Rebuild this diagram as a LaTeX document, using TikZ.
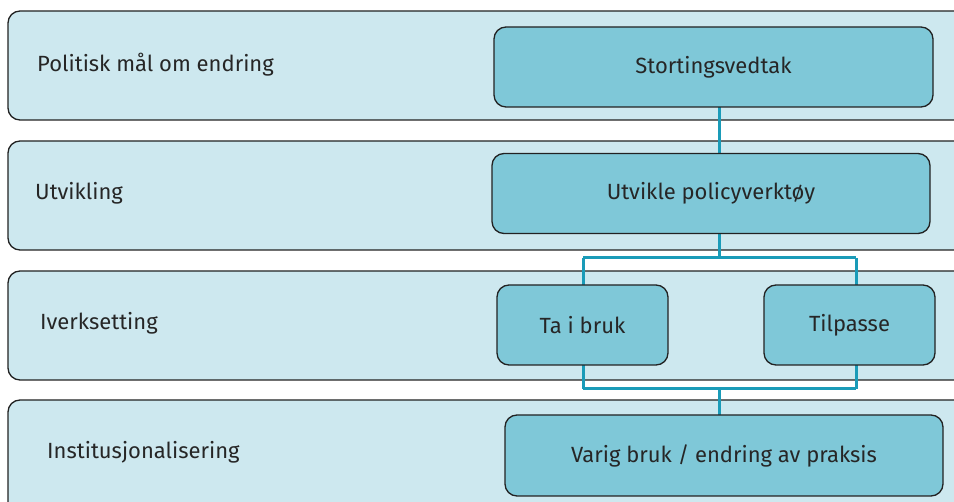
\documentclass[tikz,border=0pt]{standalone}
\usepackage{fontspec}
\setmainfont{Fira Sans}
\definecolor{bandfill}{HTML}{CDE8EF}
\definecolor{boxfill}{HTML}{7FC8D8}
\definecolor{conn}{HTML}{1A9BB8}
\definecolor{edge}{HTML}{222222}
\begin{document}
\begin{tikzpicture}[x=1pt,y=-1pt,
  band/.style={draw=edge,line width=1.3pt,fill=bandfill,rounded corners=12pt},
  stepbox/.style={draw=edge,line width=1.3pt,fill=boxfill,rounded corners=12pt,
    minimum height=80pt,inner sep=0pt,font=\fontsize{22}{26}\selectfont,text=black!85},
  lbl/.style={anchor=west,font=\fontsize{22}{26}\selectfont,text=black!85,inner sep=0pt},
  conline/.style={draw=conn,line width=3pt}]
\useasboundingbox (0,0) rectangle (954,502);
\clip (0,0) rectangle (954,502);
% bands
\draw[band] (8,11) rectangle (990,120);
\draw[band] (8,141) rectangle (990,250);
\draw[band] (8,271) rectangle (990,380);
\draw[band] (8,400) rectangle (990,530);
% band labels
\node[lbl] (l1) at (37,65) {Politisk mål om endring};
\node[lbl] (l2) at (35,193) {Utvikling};
\node[lbl] (l3) at (40,323) {Iverksetting};
\node[lbl] (l4) at (47,452) {Institusjonalisering};
% coordinates for connector joints
\coordinate (j1) at (719,258);
\coordinate (jl1) at (583,258);
\coordinate (jr1) at (856,258);
\coordinate (j2) at (719,389);
\coordinate (jl2) at (583,389);
\coordinate (jr2) at (856,389);
% connectors (drawn first, under the boxes)
\path[conline] (719,67) -- (719,193.5);
\path[conline] (719,193.5) -- (j1);
\path[conline] (jl1) -- (jr1);
\path[conline] (jl1) -- (583,325);
\path[conline] (jr1) -- (856,325);
\path[conline] (583,325) -- (jl2);
\path[conline] (856,325) -- (jr2);
\path[conline] (jl2) -- (jr2);
\path[conline] (j2) -- (719,455);
% boxes
\node[stepbox,minimum width=439pt] (s) at (713.5,67) {Stortingsvedtak};
\node[stepbox,minimum width=438pt] (u) at (711,193.5) {Utvikle policyverktøy};
\node[stepbox,minimum width=171pt] (t) at (582.5,325) {Ta i bruk};
\node[stepbox,minimum width=171pt] (p) at (849.5,325) {Tilpasse};
\node[stepbox,minimum width=438pt,minimum height=81pt] (v) at (724,455.5) {Varig bruk / endring av praksis};
\end{tikzpicture}
\end{document}
